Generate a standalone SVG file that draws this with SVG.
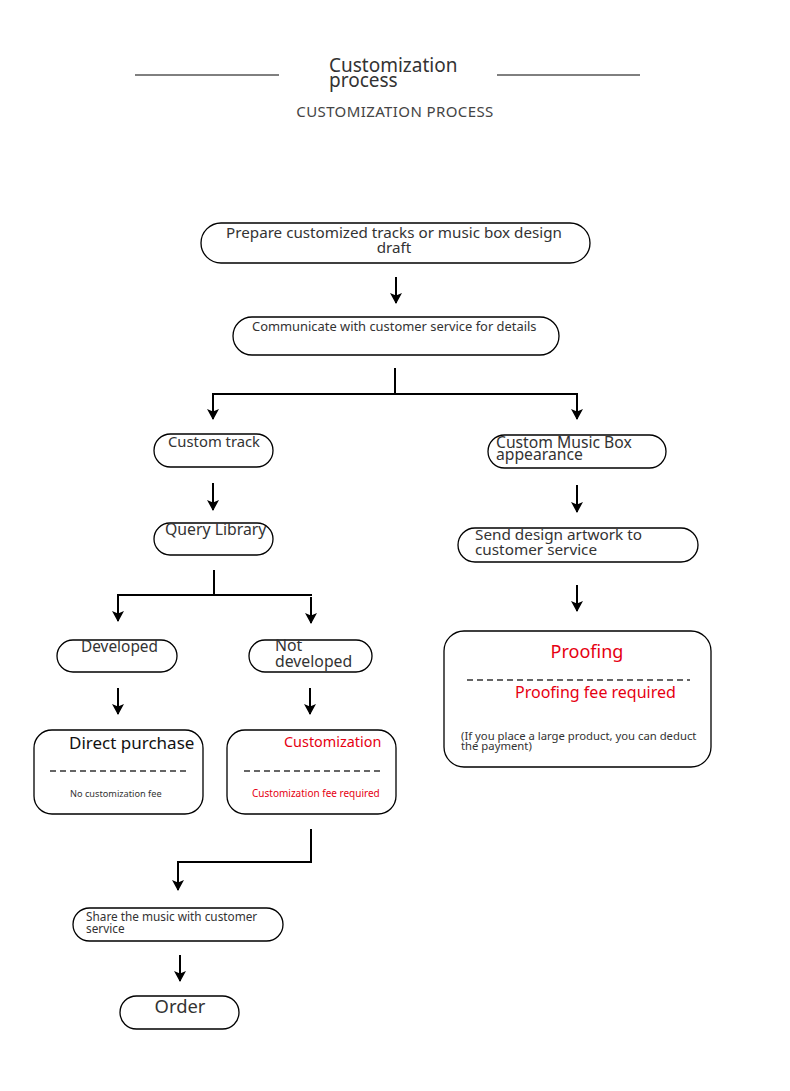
<svg xmlns="http://www.w3.org/2000/svg" width="790" height="1091" viewBox="0 0 790 1091">
<defs>
<marker id="ah" viewBox="0 0 11 12" markerWidth="11" markerHeight="12" refX="10" refY="6" orient="auto" markerUnits="userSpaceOnUse">
<path d="M0,0 L11,6 L0,12 L2.5,6 Z" fill="#000"/>
</marker>
<style>
text{font-family:"Noto Sans","Open Sans","DejaVu Sans",sans-serif;fill:#333;}
.box{fill:#fff;stroke:#000;stroke-width:1.3;}
.ln{fill:none;stroke:#000;stroke-width:2;}
.arr{fill:none;stroke:#000;stroke-width:2;}
.dash{stroke:#333;stroke-width:1.3;stroke-dasharray:6,4;}
.red{fill:#e60012;}
</style>
</defs>
<rect width="790" height="1091" fill="#fff"/>
<g id="title">
<line x1="135" y1="75" x2="279" y2="75" stroke="#000" stroke-width="1"/>
<line x1="497" y1="75" x2="640" y2="75" stroke="#000" stroke-width="1"/>
<text x="329" y="72" font-size="19">Customization</text>
<text x="329" y="87" font-size="19">process</text>
<text x="395" y="117" font-size="15" text-anchor="middle" style="fill:#444" letter-spacing="0.4">CUSTOMIZATION PROCESS</text>
</g>
<g id="connectors">
<line class="arr" x1="396" y1="277" x2="396" y2="303" marker-end="url(#ah)"/>
<polyline class="ln" points="395,368 395,394"/>
<polyline class="arr" points="578,394 213,394 213,419" marker-end="url(#ah)"/>
<line class="arr" x1="577" y1="394" x2="577" y2="419" marker-end="url(#ah)"/>
<line class="arr" x1="213" y1="483" x2="213" y2="510" marker-end="url(#ah)"/>
<line class="arr" x1="577" y1="485" x2="577" y2="512" marker-end="url(#ah)"/>
<line class="arr" x1="577" y1="585" x2="577" y2="611" marker-end="url(#ah)"/>
<polyline class="ln" points="214,570 214,595"/>
<polyline class="arr" points="312,595 118,595 118,621" marker-end="url(#ah)"/>
<line class="arr" x1="311" y1="597" x2="311" y2="623" marker-end="url(#ah)"/>
<line class="arr" x1="118" y1="688" x2="118" y2="714" marker-end="url(#ah)"/>
<line class="arr" x1="310" y1="688" x2="310" y2="714" marker-end="url(#ah)"/>
<polyline class="arr" points="311,829 311,862 178,862 178,890" marker-end="url(#ah)"/>
<line class="arr" x1="180" y1="955" x2="180" y2="981" marker-end="url(#ah)"/>
</g>
<g id="n-prepare">
<rect class="box" x="201" y="223" width="389" height="40" rx="20"/>
<text x="394" y="238" font-size="15.2" text-anchor="middle">Prepare customized tracks or music box design</text>
<text x="394" y="253" font-size="15.2" text-anchor="middle">draft</text>
</g>
<g id="n-communicate">
<rect class="box" x="233" y="317" width="326" height="38" rx="19"/>
<text x="252" y="331" font-size="12.9">Communicate with customer service for details</text>
</g>
<g id="n-track">
<rect class="box" x="154" y="434" width="119" height="33" rx="16.5"/>
<text x="168" y="447" font-size="14.8">Custom track</text>
</g>
<g id="n-appearance">
<rect class="box" x="488" y="435" width="178" height="33" rx="16.5"/>
<text x="496" y="448" font-size="15.7">Custom Music Box</text>
<text x="496" y="460" font-size="15.7">appearance</text>
</g>
<g id="n-query">
<rect class="box" x="154" y="523" width="119" height="32" rx="16"/>
<text x="165" y="535" font-size="15.8">Query Library</text>
</g>
<g id="n-send">
<rect class="box" x="458" y="528" width="240" height="34" rx="17"/>
<text x="475" y="540" font-size="15.3">Send design artwork to</text>
<text x="475" y="555" font-size="15.3">customer service</text>
</g>
<g id="n-proofing">
<rect class="box" x="444" y="631" width="267" height="136" rx="20"/>
<text x="587" y="658" font-size="18" text-anchor="middle" class="red">Proofing</text>
<line class="dash" x1="467" y1="680" x2="690" y2="680"/>
<text x="515" y="698" font-size="16" class="red">Proofing fee required</text>
<text x="461" y="740" font-size="11.3">(If you place a large product, you can deduct</text>
<text x="461" y="750" font-size="11.3">the payment)</text>
</g>
<g id="n-developed">
<rect class="box" x="57" y="640" width="120" height="32" rx="16"/>
<text x="81" y="652" font-size="15.4">Developed</text>
</g>
<g id="n-notdeveloped">
<rect class="box" x="249" y="640" width="123" height="32" rx="16"/>
<text x="275" y="651" font-size="15.8">Not</text>
<text x="275" y="667" font-size="15.8">developed</text>
</g>
<g id="n-direct">
<rect class="box" x="34" y="730" width="169" height="84" rx="18"/>
<text x="69" y="749" font-size="17" style="fill:#111">Direct purchase</text>
<line class="dash" x1="50" y1="771" x2="186" y2="771"/>
<text x="70" y="797" font-size="9.2">No customization fee</text>
</g>
<g id="n-customization">
<rect class="box" x="227" y="730" width="169" height="84" rx="18"/>
<text x="284" y="747" font-size="14.4" class="red">Customization</text>
<line class="dash" x1="244" y1="771" x2="380" y2="771"/>
<text x="252" y="797" font-size="10" class="red">Customization fee required</text>
</g>
<g id="n-share">
<rect class="box" x="73" y="908" width="210" height="33" rx="16.5"/>
<text x="86" y="921" font-size="11.8">Share the music with customer</text>
<text x="86" y="933" font-size="11.8">service</text>
</g>
<g id="n-order">
<rect class="box" x="120" y="996" width="119" height="33" rx="16.5"/>
<text x="180" y="1013" font-size="18.4" text-anchor="middle">Order</text>
</g>
</svg>
